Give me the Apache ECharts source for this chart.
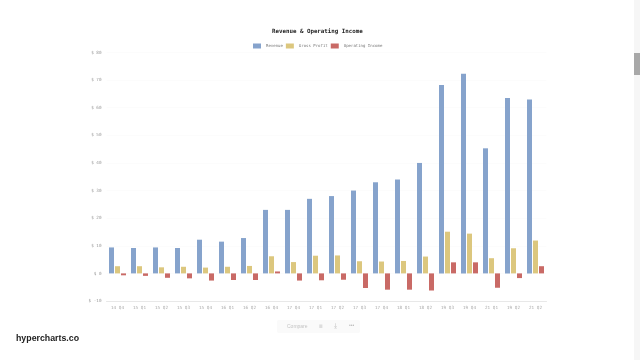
<!DOCTYPE html>
<html>
<head>
<meta charset="utf-8">
<style>
  html, body { margin: 0; padding: 0; background: #fff; overflow: hidden; }
  #chart { width: 640px; height: 360px; }
</style>
<script src="https://cdn.jsdelivr.net/npm/echarts@6/dist/echarts.min.js"></script>
</head>
<body>
<div id="chart"></div>
<script>
var categories = ['14 Q4', '15 Q1', '15 Q2', '15 Q3', '15 Q4', '16 Q1', '16 Q2', '16 Q4', '17 Q4', '17 Q1',
  '17 Q2', '17 Q3', '17 Q4', '18 Q1', '18 Q2', '19 Q3', '19 Q4', '21 Q1', '19 Q2', '21 Q2'];
var revenue = [9.4, 9.2, 9.4, 9.2, 12.2, 11.5, 12.8, 23, 23, 27, 28, 30, 33, 34, 40, 68.2, 72.3, 45.3, 63.5, 63];
var grossProfit = [2.6, 2.6, 2.2, 2.4, 2.1, 2.4, 2.7, 6.2, 4.1, 6.4, 6.5, 4.4, 4.3, 4.5, 6.1, 15.1, 14.4, 5.5, 9.1, 11.9];
var operatingIncome = [-0.7, -0.9, -1.6, -1.8, -2.6, -2.4, -2.4, 0.7, -2.6, -2.5, -2.3, -5.3, -5.9, -5.9, -6.2, 4, 4, -5.2, -1.7, 2.6];
var yTicks = { min: -10, max: 80, interval: 10 };

var mono = '"DejaVu Sans Mono", monospace';
var myChart = echarts.init(document.getElementById('chart'));

function barSeries(name, data, color) {
  return {
    name: name,
    type: 'bar',
    barWidth: 5,
    barGap: '20%',
    itemStyle: { color: color },
    data: data
  };
}

var option = {
  animation: false,
  title: {
    text: 'Revenue & Operating Income',
    left: 267,
    top: 23,
    textStyle: { fontFamily: mono, fontSize: 5.8, fontWeight: 'bold', color: '#222' }
  },
  legend: {
    top: 38.5,
    left: 248,
    icon: 'rect',
    itemWidth: 8,
    itemHeight: 5,
    itemGap: 3,
    textStyle: { fontFamily: mono, fontSize: 4, color: '#777' }
  },
  grid: { left: 106.5, width: 440, top: 52.5, bottom: 59 },
  xAxis: {
    type: 'category',
    data: categories,
    axisTick: { show: false },
    axisLine: { onZero: false, lineStyle: { color: '#e8e8e8' } },
    axisLabel: { fontFamily: mono, fontSize: 4.3, color: '#aaa', margin: 5, interval: 0 }
  },
  yAxis: {
    type: 'value',
    min: yTicks.min,
    max: yTicks.max,
    interval: yTicks.interval,
    axisLine: { show: false },
    axisTick: { show: false },
    splitLine: { lineStyle: { color: '#fcfcfc' } },
    axisLabel: {
      fontFamily: mono, fontSize: 4.3, color: '#999', margin: 5,
      formatter: function (v) { return '$ ' + v; }
    }
  },
  series: [
    barSeries('Revenue', revenue, '#86a3cc'),
    barSeries('Gross Profit', grossProfit, '#dcc77e'),
    barSeries('Operating Income', operatingIncome, '#c96a66')
  ],
  graphic: [
    // page bits around the chart: toolbar, scrollbar, watermark
    { type: 'rect', shape: { x: 277, y: 320, width: 83, height: 13, r: 2 }, style: { fill: '#fafafa' } },
    { type: 'text', style: { x: 287, y: 324, text: 'Compare', fontFamily: 'Liberation Sans', fontSize: 5, fill: '#c4c4c4' } },
    { type: 'text', style: { x: 319, y: 323.5, text: '\u2261', fontFamily: mono, fontSize: 6, fill: '#c4c4c4' } },
    { type: 'text', style: { x: 334, y: 323, text: '\u2913', fontSize: 7, fill: '#bbb' } },
    { type: 'text', style: { x: 349, y: 323, text: '\u2022\u2022\u2022', fontSize: 5, fill: '#bbb' } },
    { type: 'rect', shape: { x: 634, y: 0, width: 6, height: 360 }, style: { fill: '#f6f6f6' } },
    { type: 'rect', shape: { x: 634, y: 53, width: 6, height: 22 }, style: { fill: '#a8a8a8' } },
    { type: 'text', style: { x: 16, y: 334, text: 'hypercharts.co', fontFamily: 'Liberation Sans', fontSize: 8.8, fontWeight: 'bold', fill: '#222' } }
  ]
};
myChart.setOption(option, true);
</script>
</body>
</html>
